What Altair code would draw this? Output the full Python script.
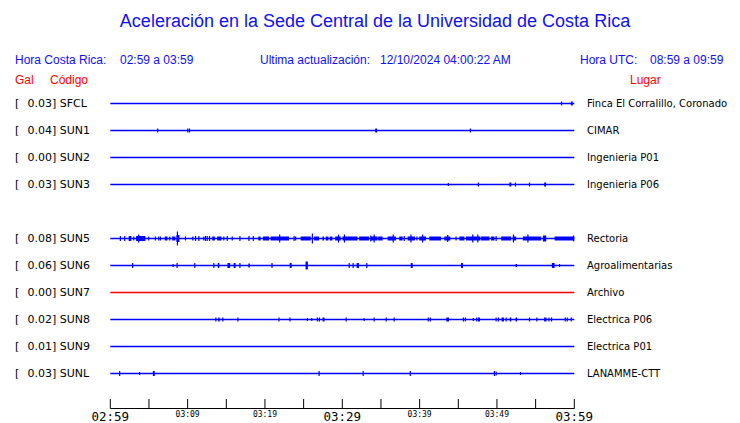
import altair as alt
import pandas as pd

# ---------------- data ----------------
stations = ["SFCL", "SUN1", "SUN2", "SUN3", "SUN5", "SUN6", "SUN7", "SUN8", "SUN9", "SUNL"]
rows = [0, 1, 2, 3, 5, 6, 7, 8, 9, 10]
gal = ["0.03", "0.04", "0.00", "0.03", "0.08", "0.06", "0.00", "0.02", "0.01", "0.03"]
places = ["Finca El Corralillo, Coronado", "CIMAR", "Ingenieria P01", "Ingenieria P06",
          "Rectoria", "Agroalimentarias", "Archivo", "Electrica P06", "Electrica P01", "LANAMME-CTT"]
trace_colors = ["#0000ff", "#0000ff", "#0000ff", "#0000ff", "#0000ff",
                "#0000ff", "#ff0000", "#0000ff", "#0000ff", "#0000ff"]

# spikes: (minute after 02:59, half amplitude)
spikes = {
    "SFCL": [(58.35, 2)],
    "SUN1": [(6.13, 2), (10.02, 2), (10.24, 2), (46.56, 2)],
    "SUN2": [],
    "SUN3": [(43.71, 1.5), (47.60, 2), (52.39, 2), (54.21, 2)],
    "SUN5": [(1.30, 2.5), (1.86, 2.5), (3.03, 2), (3.67, 4), (4.97, 2), (5.83, 2), (6.26, 2),
             (6.48, 2), (7.69, 2), (8.68, 7), (9.72, 2), (10.67, 2), (11.02, 2.5), (11.45, 2.5),
             (12.09, 2), (12.31, 2.5), (12.53, 2.5), (12.83, 2.5), (14.68, 2), (15.12, 2.5),
             (15.77, 2), (16.76, 2.5), (17.93, 2.5), (18.49, 2.5), (21.90, 4), (23.76, 2.5),
             (23.97, 2), (26.13, 5), (29.51, 4), (30.28, 4), (33.69, 3), (34.12, 4), (36.59, 4),
             (38.01, 2.5), (38.88, 4), (39.65, 2), (40.39, 4), (43.63, 3.5), (44.71, 2),
             (46.87, 4), (47.52, 4), (49.89, 2.5), (52.13, 4), (54.00, 4), (59.90, 3)],
    "SUN6": [(2.89, 2.5), (8.12, 1.5), (8.64, 2.5), (10.93, 2.5), (13.39, 2.5), (16.76, 2.5),
             (20.91, 2.5), (30.89, 2.5), (31.40, 2.5), (33.17, 2.5), (58.10, 1.5)],
    "SUN7": [],
    "SUN8": [(13.65, 2), (14.55, 2), (16.50, 2), (21.81, 2), (23.24, 2), (25.49, 1.5),
             (26.05, 1.5), (26.78, 2), (27.04, 2), (30.50, 2), (32.83, 1.5), (34.12, 2),
             (35.68, 2), (36.71, 2), (41.12, 2), (41.38, 2), (45.66, 2), (45.91, 2),
             (46.95, 1.5), (47.39, 2), (49.89, 2), (50.19, 2), (51.19, 2), (54.21, 2),
             (55.16, 2), (56.72, 2), (57.06, 2), (58.83, 2), (59.09, 2), (59.61, 2)],
    "SUN9": [],
    "SUNL": [(1.21, 2.5), (3.80, 1.5), (27.00, 2.5), (32.70, 2.5), (38.79, 2.5),
             (49.67, 2.5), (49.89, 2), (53.04, 1.5)],
}

# bursts: (start minute, end minute, half amplitude)
bursts = {
    "SFCL": [(59.55, 59.80, 2)],
    "SUN1": [(34.25, 34.50, 2)],
    "SUN2": [],
    "SUN3": [(51.60, 51.85, 2), (56.10, 56.35, 2)],
    "SUN5": [(2.38, 2.72, 2.5), (3.33, 4.54, 2.5), (7.04, 7.39, 2), (8.00, 8.42, 2),
             (8.55, 8.94, 3.5), (13.18, 13.52, 2), (13.82, 14.38, 2), (19.14, 19.44, 2),
             (19.74, 20.52, 2), (20.73, 23.11, 2), (24.62, 25.92, 2), (26.35, 26.99, 2),
             (27.43, 27.64, 2), (27.86, 28.21, 2), (28.38, 28.73, 2), (29.07, 29.80, 2),
             (30.03, 31.97, 2), (32.18, 33.47, 2), (33.69, 34.56, 2), (34.64, 35.21, 2),
             (35.86, 36.93, 2), (37.36, 37.80, 2), (38.45, 39.40, 2), (39.95, 40.82, 2),
             (41.25, 42.76, 2), (43.19, 43.97, 2), (45.14, 45.79, 2), (46.00, 47.86, 2),
             (47.95, 49.03, 2), (49.24, 49.67, 2), (50.54, 51.83, 2), (52.05, 52.48, 2),
             (53.35, 55.72, 2), (55.94, 56.37, 3), (57.45, 60.00, 2)],
    "SUN6": [(13.90, 14.10, 2.5), (15.15, 15.50, 2.5), (15.95, 16.20, 2.5), (17.85, 18.05, 2),
             (23.20, 23.45, 2.5), (25.25, 25.55, 4), (31.85, 32.15, 2.5), (38.85, 39.10, 2.5),
             (45.35, 45.60, 2.5), (52.40, 52.60, 1.5), (57.10, 57.45, 2.5)],
    "SUN7": [],
    "SUN8": [(13.95, 14.15, 2), (27.45, 27.70, 2), (43.45, 43.80, 2), (47.55, 47.80, 2),
             (50.60, 50.90, 2), (51.65, 51.85, 2), (52.40, 52.60, 2), (56.10, 56.40, 2)],
    "SUN9": [],
    "SUNL": [(5.50, 5.75, 2.5)],
}

tick_minutes = [0, 5, 10, 15, 20, 25, 30, 35, 40, 45, 50, 55, 60]
label_minutes = [0, 10, 20, 30, 40, 50, 60]
label_texts = ["02:59", "03:09", "03:19", "03:29", "03:39", "03:49", "03:59"]
label_big = [True, False, False, True, False, False, True]

title_text = "Aceleración en la Sede Central de la Universidad de Costa Rica"

# ---------------- tables ----------------
ROW_PX = 27.0
st = pd.DataFrame({"station": stations, "row": rows, "gal": gal, "place": places,
                   "color": trace_colors, "t0": 0, "t1": 60})
st["left"] = st["gal"] + "] " + st["station"]

sp_recs, bu_recs = [], []
for s, r in zip(stations, rows):
    for t, a in spikes[s]:
        sp_recs.append({"station": s, "t": t, "y0": r - a / ROW_PX, "y1": r + a / ROW_PX})
    for t0, t1, a in bursts[s]:
        bu_recs.append({"station": s, "t0": t0, "t1": t1, "y0": r - a / ROW_PX, "y1": r + a / ROW_PX})
sp = pd.DataFrame(sp_recs)
bu = pd.DataFrame(bu_recs)
ticks = pd.DataFrame({"m": tick_minutes})
labs = pd.DataFrame({"m": label_minutes, "txt": label_texts, "big": label_big})

xs = alt.Scale(domain=[0, 60], range=[102.3, 566.3])
ys = alt.Scale(domain=[0, 10], range=[95.5, 365.5])
X = lambda f: alt.X(f, type="quantitative", scale=xs, axis=None)
Y = lambda f: alt.Y(f, type="quantitative", scale=ys, axis=None)

base_lines = alt.Chart(st).mark_rule(strokeWidth=1.5).encode(
    x=X("t0"), x2="t1", y=Y("row"), color=alt.Color("color:N", scale=None))
spike_layer = alt.Chart(sp).mark_rule(strokeWidth=1.2, color="#0000ff").encode(
    x=X("t"), y=Y("y0"), y2="y1")
burst_layer = alt.Chart(bu).mark_rect(color="#0000ff").encode(
    x=X("t0"), x2="t1", y=Y("y0"), y2="y1")

left_br = alt.Chart(st).mark_text(align="left", baseline="middle", font="DejaVu Sans",
                                  fontSize=11, color="black", text="[").encode(
    x=alt.value(7), y=Y("row"))
left_lab = alt.Chart(st).mark_text(align="left", baseline="middle", font="DejaVu Sans",
                                   fontSize=11, color="black").encode(
    x=alt.value(19.5), y=Y("row"), text="left:N")
right_lab = alt.Chart(st).mark_text(align="left", baseline="middle", font="DejaVu Sans",
                                    fontSize=10, color="black").encode(
    x=alt.value(579), y=Y("row"), text="place:N")

axis_line = alt.Chart(ticks).mark_rule(color="black", strokeWidth=1).encode(
    x=alt.X("min(m):Q", scale=xs, axis=None), x2="max(m):Q", y=alt.value(400.5))
tick_layer = alt.Chart(ticks).mark_rule(color="black", strokeWidth=1).encode(
    x=X("m"), y=alt.value(391), y2=alt.value(400.5))
big_labs = alt.Chart(labs).transform_filter("datum.big").mark_text(
    baseline="middle", font="DejaVu Sans Mono", fontSize=12.5, color="black").encode(
    x=X("m"), y=alt.value(408.5), text="txt:N")
small_labs = alt.Chart(labs).transform_filter("!datum.big").mark_text(
    baseline="middle", font="DejaVu Sans Mono", fontSize=8, color="black").encode(
    x=X("m"), y=alt.value(407), text="txt:N")

one = pd.DataFrame({"k": [0]})


def label(txt, x, y, color, size, font="Liberation Sans", align="left"):
    return alt.Chart(one).mark_text(text=txt, align=align, baseline="middle", font=font,
                                    fontSize=size, color=color).encode(
        x=alt.value(x), y=alt.value(y))


BLUE = "#1010ee"
RED = "#ff0000"
texts = [
    label(title_text, 367, 14, BLUE, 18, align="center"),
    label("Hora Costa Rica:", 7, 52, BLUE, 12),
    label("02:59 a 03:59", 112, 52, BLUE, 12),
    label("Ultima actualización:", 252, 52, BLUE, 12),
    label("12/10/2024 04:00:22 AM", 372, 52, BLUE, 12),
    label("Hora UTC:", 572, 52, BLUE, 12),
    label("08:59 a 09:59", 642, 52, BLUE, 12),
    label("Gal", 7, 72, RED, 12),
    label("Código", 42, 72, RED, 12),
    label("Lugar", 622, 72, RED, 12),
]

chart = alt.layer(
    base_lines, burst_layer, spike_layer, left_br, left_lab, right_lab,
    axis_line, tick_layer, big_labs, small_labs, *texts
).properties(
    width=724, height=415, autosize=alt.AutoSizeParams(type="none"), padding=0
).configure_view(stroke=None)

chart.save("out.html", embed_options={"renderer": "svg", "actions": False})
